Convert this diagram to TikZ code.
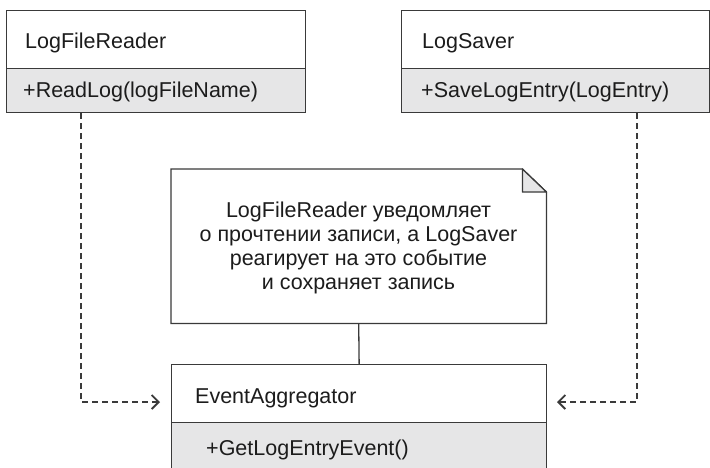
\documentclass[tikz,border=0pt]{standalone}
\usepackage{fontspec}
\setmainfont{Liberation Sans}
\usetikzlibrary{arrows.meta}
\definecolor{ln}{HTML}{3A3A3A}
\definecolor{cmp}{HTML}{E6E6E7}
\definecolor{txt}{HTML}{1C1C1C}
\begin{document}
\begin{tikzpicture}[x=1pt,y=-1pt, font=\fontsize{21.5}{24}\selectfont,
  box/.style={draw=ln, line width=1.3pt, rectangle, inner sep=0pt, anchor=north west},
  hdr/.style={box, fill=white},
  cmpt/.style={box, fill=cmp},
  lbl/.style={anchor=base west, inner sep=0pt, text=txt},
  dep/.style={draw=ln, line width=1.2pt, dash pattern=on 6pt off 4pt,
    -{Straight Barb[length=7pt,width=14pt,line width=1.8pt]}}
]
\useasboundingbox (0,0) rectangle (710,467);
% LogFileReader
\node[hdr, minimum width=299pt, minimum height=58pt] (lfrH) at (6,10) {};
\node[cmpt, minimum width=299pt, minimum height=44pt] (lfrC) at (6,68) {};
\node[lbl] (lfrT) at (25,48) {LogFileReader};
\node[lbl] (lfrM) at (23,97) {+ReadLog(logFileName)};
% LogSaver
\node[hdr, minimum width=308pt, minimum height=58pt] (lsH) at (401,10) {};
\node[cmpt, minimum width=308pt, minimum height=44pt] (lsC) at (401,68) {};
\node[lbl] (lsT) at (422,48) {LogSaver};
\node[lbl] (lsM) at (421,97) {+SaveLogEntry(LogEntry)};
% EventAggregator
\node[hdr, minimum width=375pt, minimum height=58pt] (eaH) at (171,364) {};
\node[cmpt, minimum width=375pt, minimum height=60pt] (eaC) at (171,422) {};
\node[lbl] (eaT) at (195,403) {EventAggregator};
\node[lbl] (eaM) at (206,455) {+GetLogEntryEvent()};
% Note
\node[inner sep=0pt, minimum width=375pt, minimum height=154pt, anchor=north west] (note) at (171,169) {};
\draw[draw=ln, line width=1.3pt, fill=white] (note.north west) -- ([xshift=-24pt]note.north east)
  -- ([yshift=-23pt]note.north east) -- (note.south east) -- (note.south west) -- cycle;
\draw[draw=ln, line width=1.3pt, fill=cmp, line join=round] ([xshift=-24pt]note.north east)
  -- ([xshift=-24pt,yshift=-23pt]note.north east) -- ([yshift=-23pt]note.north east) -- cycle;
\node[align=center, inner sep=0pt, text=txt] (noteT) at (358.5,248)
  {LogFileReader уведомляет\\о прочтении записи, а LogSaver\\реагирует на это событие\\и сохраняет запись};
% connectors
\coordinate (lx) at (81,0);
\coordinate (rx) at (637,0);
\coordinate (aL) at (160,402);
\coordinate (aR) at (557,402);
\draw[dep] (lx |- lfrC.south) |- (aL);
\draw[dep] (rx |- lsC.south) |- (aR);
\draw[draw=ln, line width=1.3pt] (note.south) -- (eaH.north);
\end{tikzpicture}
\end{document}
